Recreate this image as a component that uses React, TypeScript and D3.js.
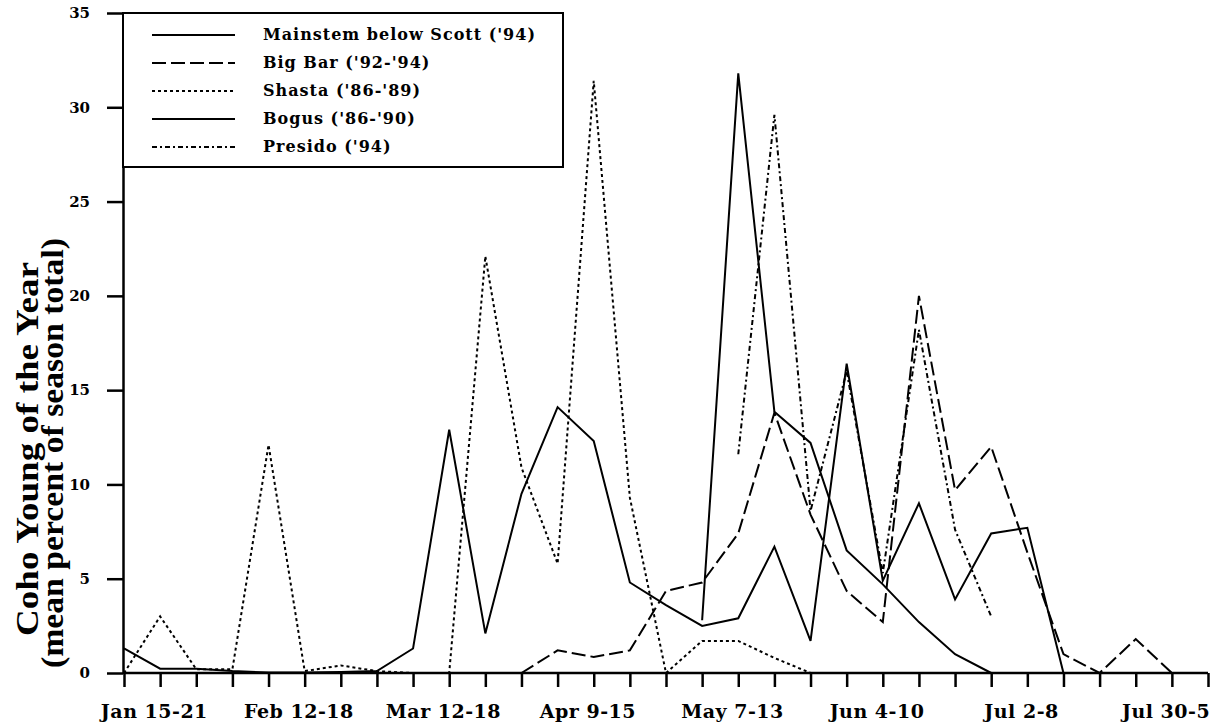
import { useEffect, useRef } from "react";
import * as d3 from "d3";

// weeks 0..30, one tick per week; labels every 4 weeks
const weekCount = 31;
const weekLabels = ["Jan 15-21", "Feb 12-18", "Mar 12-18", "Apr 9-15", "May 7-13", "Jun 4-10", "Jul 2-8", "Jul 30-5"];
const yTicks = [0, 5, 10, 15, 20, 25, 30, 35];

// mean percent of season total, by week index (first value sits at the start week)
const mainstemStart = 16;
const mainstem = [2.8, 31.8, 13.85, 12.2, 6.5, 4.7, 2.7, 1.0, 0];
const bigBarStart = 11;
const bigBar = [0, 1.2, 0.85, 1.2, 4.35, 4.8, 7.4, 13.8, 8.4, 4.35, 2.7, 20.0, 9.7, 12.0, 6.4, 1.0, 0, 1.8, 0];
const shastaStart = 0;
const shasta = [0, 3.0, 0.2, 0.2, 12.1, 0.1, 0.4, 0.1, 0, 0, 22.1, 10.9, 5.8, 31.4, 9.3, 0, 1.7, 1.7, 0.8, 0];
const bogusStart = 0;
const bogus = [1.3, 0.23, 0.23, 0.1, 0.02, 0.02, 0.05, 0.1, 1.3, 12.9, 2.1, 9.5, 14.1, 12.3, 4.8, 3.6, 2.5, 2.9, 6.7, 1.7, 16.4, 4.9, 9.0, 3.9, 7.4, 7.7, 0];
const presidoStart = 17;
const presido = [11.6, 29.6, 8.6, 16.0, 5.3, 18.2, 7.6, 3.0];

const series = [
  { name: "Mainstem below Scott ('94)", start: mainstemStart, values: mainstem, dash: "none" },
  { name: "Big Bar ('92-'94)", start: bigBarStart, values: bigBar, dash: "14,5" },
  { name: "Shasta ('86-'89)", start: shastaStart, values: shasta, dash: "3,3" },
  { name: "Bogus ('86-'90)", start: bogusStart, values: bogus, dash: "none" },
  { name: "Presido ('94)", start: presidoStart, values: presido, dash: "5,3,2,3" },
];

const FONT = "'DejaVu Serif', serif";
const TITLE_FONT = "'Liberation Serif', serif";

const Chart = () => {
  const svgRef = useRef<SVGSVGElement>(null);

  useEffect(() => {
    if (!svgRef.current) return;
    const svg = d3.select(svgRef.current);
    svg.selectAll("*").remove();

    const x = d3.scaleLinear().domain([0, weekCount - 1]).range([124, 1208]);
    const y = d3.scaleLinear().domain([0, 35]).range([673, 13]);

    // lines
    const line = d3.line<[number, number]>().x(d => x(d[0])).y(d => y(d[1]));
    svg.append("g")
      .selectAll("path")
      .data(series)
      .join("path")
      .attr("d", s => line(s.values.map((v, i) => [s.start + i, v] as [number, number])))
      .attr("fill", "none")
      .attr("stroke", "#000")
      .attr("stroke-width", 2)
      .attr("stroke-dasharray", s => s.dash);

    // y axis
    const yAxis = svg.append("g")
      .attr("transform", `translate(123,0)`)
      .call(d3.axisLeft(y).tickValues(yTicks).tickSize(16).tickSizeOuter(0).tickPadding(17));
    yAxis.select(".domain").attr("stroke-width", 2.5);
    yAxis.selectAll(".tick line").attr("stroke-width", 2.5);
    yAxis.selectAll("text")
      .attr("font-family", FONT)
      .attr("font-weight", "bold")
      .attr("font-size", 15)
      .attr("fill", "#000");

    // x axis
    const xAxis = svg.append("g")
      .attr("transform", `translate(0,673)`)
      .call(d3.axisBottom(x).tickValues(d3.range(weekCount)).tickSize(14).tickSizeOuter(0).tickFormat(() => ""));
    xAxis.select(".domain").attr("stroke-width", 2.5).attr("d", `M123,0H1208`);
    xAxis.selectAll(".tick line").attr("stroke-width", 2.5);

    svg.append("g")
      .selectAll("text")
      .data(weekLabels)
      .join("text")
      .attr("x", (_, i) => x(i * 4 + 0.84))
      .attr("y", 718)
      .attr("text-anchor", "middle")
      .attr("font-family", FONT)
      .attr("font-weight", "bold")
      .attr("font-size", 19)
      .attr("letter-spacing", 0.5)
      .text(d => d);

    // y title
    const title = svg.append("g")
      .attr("font-family", TITLE_FONT)
      .attr("font-weight", "bold")
      .attr("font-size", 31)
      .attr("text-anchor", "middle");
    title.append("text")
      .attr("transform", "translate(38,449) rotate(-90)")
      .attr("textLength", 374)
      .attr("lengthAdjust", "spacingAndGlyphs")
      .text("Coho Young of the Year");
    title.append("text")
      .attr("transform", "translate(63,453) rotate(-90)")
      .attr("textLength", 430)
      .attr("lengthAdjust", "spacingAndGlyphs")
      .text("(mean percent of season total)");

    // legend
    const legend = svg.append("g");
    legend.append("rect")
      .attr("x", 123).attr("y", 13).attr("width", 440).attr("height", 154)
      .attr("fill", "#fff").attr("stroke", "#000").attr("stroke-width", 2);
    const rows = legend.selectAll("g.row")
      .data(series)
      .join("g")
      .attr("class", "row")
      .attr("transform", (_, i) => `translate(0,${35 + i * 28})`);
    rows.append("line")
      .attr("x1", 152).attr("x2", 235)
      .attr("stroke", "#000").attr("stroke-width", 2)
      .attr("stroke-dasharray", s => s.dash);
    rows.append("text")
      .attr("x", 263).attr("y", 5)
      .attr("font-family", FONT)
      .attr("font-weight", "bold")
      .attr("font-size", 16)
      .attr("letter-spacing", 1)
      .text(s => s.name);
  }, []);

  return <svg ref={svgRef} width={1217} height={724} style={{ position: "absolute", left: 0, top: 0, background: "#fff" }} />;
};

export default function App() {
  return <Chart />;
}
